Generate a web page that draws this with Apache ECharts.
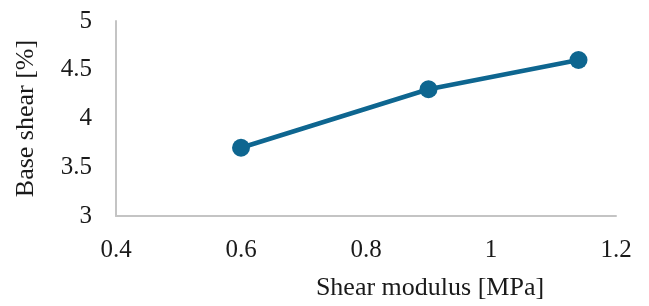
<!DOCTYPE html>
<html>
<head>
<meta charset="utf-8">
<script src="https://cdn.jsdelivr.net/npm/echarts@6/dist/echarts.min.js"></script>
<style>
  html, body { margin: 0; padding: 0; background: #fff; }
  #chart { width: 649px; height: 306px; }
</style>
</head>
<body>
<div id="chart"></div>
<script>
// data
const shearModulus = [0.6, 0.9, 1.14];
const baseShear = [3.7, 4.3, 4.6];

const points = shearModulus.map((x, i) => [x, baseShear[i]]);

const font = 'Liberation Serif, Times New Roman, serif';
const textColor = '#1a1a1a';
const axisGray = '#c4c4c4';

const chart = echarts.init(document.getElementById('chart'));
chart.setOption({
  animation: false,
  grid: { left: 116, right: 33, top: 21, bottom: 82 },
  xAxis: {
    type: 'value',
    min: 0.4,
    max: 1.2,
    interval: 0.2,
    name: 'Shear modulus [MPa]',
    nameLocation: 'middle',
    nameGap: 59,
    nameTextStyle: {
      fontFamily: font,
      fontSize: 26,
      color: textColor,
      padding: [0, 0, 0, 128],
    },
    axisLine: { show: true, lineStyle: { color: axisGray, width: 2 } },
    axisTick: { show: false },
    splitLine: { show: false },
    axisLabel: {
      fontFamily: font,
      fontSize: 25,
      color: textColor,
      margin: 22,
      formatter: (v) => String(Math.round(v * 10) / 10),
    },
  },
  yAxis: {
    type: 'value',
    min: 3,
    max: 5,
    interval: 0.5,
    name: 'Base shear [%]',
    nameLocation: 'middle',
    nameGap: 77,
    nameTextStyle: {
      fontFamily: font,
      fontSize: 26,
      color: textColor,
    },
    axisLine: { show: true, lineStyle: { color: axisGray, width: 2 } },
    axisTick: { show: false },
    splitLine: { show: false },
    axisLabel: {
      fontFamily: font,
      fontSize: 25,
      color: textColor,
      margin: 24,
    },
  },
  series: [
    {
      type: 'line',
      data: points,
      symbol: 'circle',
      symbolSize: 18,
      lineStyle: { color: '#0e6690', width: 4.5 },
      itemStyle: { color: '#0e6690' },
    },
  ],
});
</script>
</body>
</html>
